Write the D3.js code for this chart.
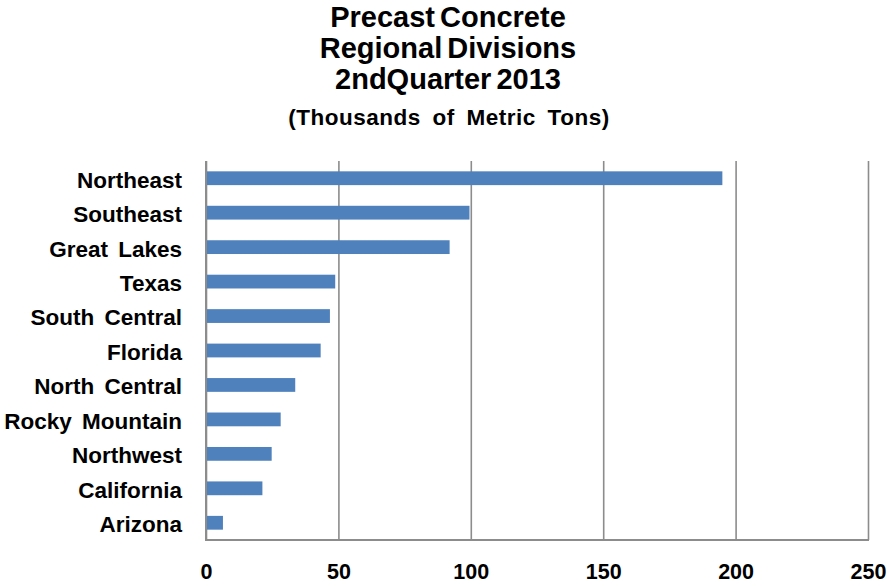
<!DOCTYPE html>
<html>
<head>
<meta charset="utf-8">
<script src="https://cdn.jsdelivr.net/npm/d3@7/dist/d3.min.js"></script>
<style>
  html, body { margin: 0; padding: 0; background: #fff; }
  svg { display: block; font-family: "Liberation Sans", Arial, sans-serif; }
</style>
</head>
<body>
<svg id="chart" width="891" height="586"></svg>
<script>
const categories = ["Northeast", "Southeast", "Great Lakes", "Texas", "South Central", "Florida",
  "North Central", "Rocky Mountain", "Northwest", "California", "Arizona"];
const values = [195, 99.5, 92, 48.8, 46.8, 43.3, 33.7, 28.2, 24.8, 21.3, 6.4];
const xTicks = [0, 50, 100, 150, 200, 250];
const titleLines = ["Precast Concrete", "Regional Divisions", "2ndQuarter 2013"];
const subtitle = "(Thousands of Metric Tons)";

const svg = d3.select("#chart");
const mLeft = 206, mRight = 868, mTop = 161, mBottom = 540;

const x = d3.scaleLinear().domain([0, 250]).range([mLeft, mRight]);
const y = d3.scaleBand().domain(categories).range([mTop, mBottom]).paddingInner(0.6).paddingOuter(0.3);

// gridlines + bottom tick labels
const xAxis = svg.append("g")
  .attr("transform", `translate(0,${mBottom})`)
  .call(d3.axisBottom(x).tickValues(xTicks).tickSize(-(mBottom - mTop)).tickPadding(24).tickFormat(d3.format("d")));
xAxis.select(".domain").attr("stroke", "#8c8c8c").attr("stroke-width", 2).attr("d", `M${mLeft},0H${mRight + 1}`);
xAxis.selectAll(".tick line").attr("stroke", "#8c8c8c").attr("stroke-width", 1.6);
xAxis.selectAll(".tick text")
  .attr("fill", "#000").attr("font-size", 21.5).attr("font-weight", "bold")
  .attr("font-family", "'Liberation Sans', Arial, sans-serif");

// bars
svg.append("g").selectAll("rect").data(values).join("rect")
  .attr("x", x(0))
  .attr("y", (d, i) => y(categories[i]))
  .attr("width", d => x(d) - x(0))
  .attr("height", y.bandwidth())
  .attr("fill", "#4f81bd");

// left axis with category labels
const yAxis = svg.append("g")
  .attr("transform", `translate(${mLeft},0)`)
  .call(d3.axisLeft(y).tickSize(0).tickPadding(24));
yAxis.select(".domain").attr("stroke", "#8c8c8c").attr("stroke-width", 2).attr("d", `M0,${mTop}V${mBottom + 1}`);
yAxis.selectAll(".tick text")
  .attr("fill", "#000").attr("font-size", 22.5).attr("font-weight", "bold")
  .attr("font-family", "'Liberation Sans', Arial, sans-serif")
  .attr("dy", "0.42em")
  .style("word-spacing", "4px");

// title
const titleY = [27, 58, 89];
svg.append("g").selectAll("text").data(titleLines).join("text")
  .attr("x", 448).attr("y", (d, i) => titleY[i])
  .attr("text-anchor", "middle").attr("font-size", 29).attr("font-weight", "bold")
  .style("word-spacing", "-3px")
  .text(d => d);
svg.append("text")
  .attr("x", 449).attr("y", 125)
  .attr("text-anchor", "middle").attr("font-size", 22.5).attr("font-weight", "bold")
  .style("letter-spacing", "0.5px").style("word-spacing", "5px")
  .text(subtitle);
</script>
</body>
</html>
